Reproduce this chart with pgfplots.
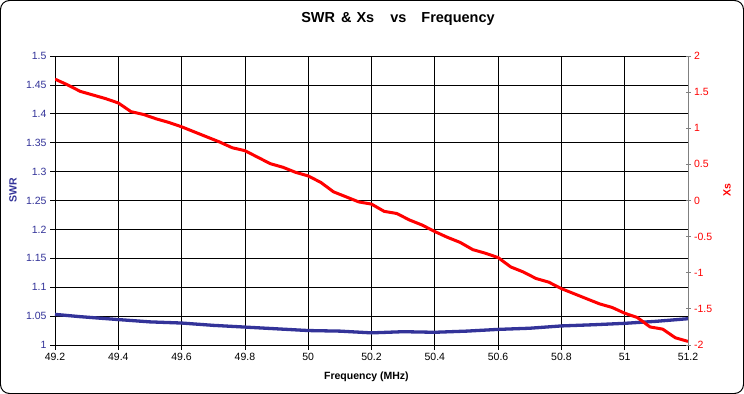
\documentclass[border=0pt]{standalone}
\usepackage{pgfplots}
\pgfplotsset{compat=1.18}
\usepackage{fontspec}
\setmainfont{Liberation Sans}
\definecolor{swrblue}{HTML}{333399}
\definecolor{xsred}{HTML}{FF0000}
\pgfplotstableread{
f swr
49.20 1.053
49.28 1.049
49.40 1.044
49.50 1.040
49.60 1.038
49.70 1.034
49.80 1.031
49.90 1.028
50.00 1.025
50.10 1.024
50.20 1.021
50.30 1.023
50.40 1.022
50.50 1.024
50.60 1.027
50.70 1.029
50.80 1.033
50.90 1.035
51.00 1.0375
51.10 1.041
51.20 1.0455
}\swrdata
\pgfplotstableread{
f xs
49.20 1.68
49.24 1.60
49.28 1.51
49.32 1.46
49.36 1.41
49.40 1.35
49.44 1.23
49.48 1.19
49.52 1.13
49.56 1.08
49.60 1.02
49.64 0.95
49.68 0.88
49.72 0.81
49.76 0.73
49.80 0.69
49.84 0.60
49.88 0.51
49.92 0.46
49.96 0.39
50.00 0.34
50.04 0.25
50.08 0.12
50.12 0.05
50.16 -0.02
50.20 -0.05
50.24 -0.15
50.28 -0.18
50.32 -0.27
50.36 -0.34
50.40 -0.43
50.44 -0.51
50.48 -0.58
50.52 -0.68
50.56 -0.73
50.60 -0.79
50.64 -0.92
50.68 -0.99
50.72 -1.08
50.76 -1.13
50.80 -1.22
50.84 -1.29
50.88 -1.36
50.92 -1.43
50.96 -1.48
51.00 -1.56
51.04 -1.62
51.08 -1.75
51.12 -1.78
51.16 -1.90
51.20 -1.95
}\xsdata
\begin{document}
\begin{tikzpicture}
\draw[black, line width=1bp, rounded corners=9bp, fill=white] (0.5bp,0.5bp) rectangle (743.5bp,393.5bp);
\node[font=\bfseries\fontsize{14.5bp}{16bp}\selectfont, anchor=center] at (398bp,375bp)
  {SWR\hspace{6bp}\&\hspace{5bp}Xs\hspace{16bp}vs\hspace{15bp}Frequency};
\begin{axis}[
  at={(55bp,49bp)}, anchor=south west,
  scale only axis, width=633bp, height=289bp,
  xmin=49.2, xmax=51.2, ymin=1, ymax=1.5,
  xtick={49.2,49.4,49.6,49.8,50,50.2,50.4,50.6,50.8,51,51.2},
  ytick={1,1.05,1.1,1.15,1.2,1.25,1.3,1.35,1.4,1.45,1.5},
  axis y line*=left, axis x line*=bottom,
  axis line style={black, line width=0.8bp, -},
  grid=major, major grid style={black, line width=0.8bp},
  tick align=outside, major tick length=5bp,
  tick style={black, line width=0.8bp},
  /pgf/number format/assume math mode=true,
  /pgf/number format/fixed, /pgf/number format/precision=2,
  ticklabel style={font=\fontsize{10.5bp}{12bp}\selectfont},
  yticklabel style={text=swrblue},
  xlabel={Frequency (MHz)},
  xlabel style={font=\bfseries\fontsize{10.5bp}{12bp}\selectfont, at={(axis description cs:0.492,0)}, anchor=center, yshift=-32bp},
  ylabel={SWR},
  ylabel style={font=\bfseries\fontsize{10.5bp}{12bp}\selectfont, text=swrblue, at={(axis description cs:0,0.535)}, anchor=center, yshift=42bp},
  clip=false,
]
\addplot[swrblue, line width=3.3bp, line join=round] table[x=f, y=swr] {\swrdata};
\end{axis}
\begin{axis}[
  at={(55bp,49bp)}, anchor=south west,
  scale only axis, width=633bp, height=289bp,
  xmin=49.2, xmax=51.2, ymin=-2, ymax=2,
  axis x line=none, axis y line*=right,
  ytick={-2,-1.5,-1,-0.5,0,0.5,1,1.5,2},
  axis line style={gray, line width=0.8bp, -},
  tick align=center, major tick length=5bp,
  tick style={gray, line width=0.8bp},
  /pgf/number format/assume math mode=true,
  /pgf/number format/fixed, /pgf/number format/precision=2,
  yticklabel style={font=\fontsize{10.5bp}{12bp}\selectfont, text=xsred},
  ylabel={Xs},
  ylabel style={font=\bfseries\fontsize{10.5bp}{12bp}\selectfont, text=xsred, at={(axis description cs:1,0.535)}, anchor=center, yshift=-39bp},
]
\addplot[xsred, line width=3bp, line join=round] table[x=f, y=xs] {\xsdata};
\end{axis}
\end{tikzpicture}
\end{document}
